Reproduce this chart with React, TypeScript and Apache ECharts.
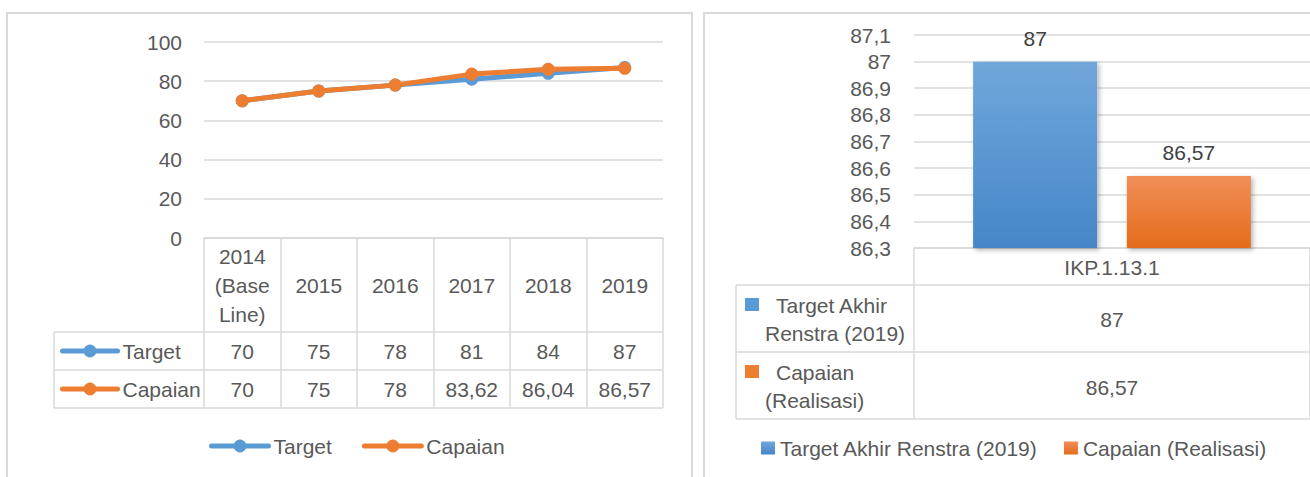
import React, { useEffect, useRef } from "react";
import * as echarts from "echarts";

// ---- Left chart data ----
const years = ["2014\n(Base\nLine)", "2015", "2016", "2017", "2018", "2019"];
const targetValues = [70, 75, 78, 81, 84, 87];
const capaianValues = [70, 75, 78, 83.62, 86.04, 86.57];
const lineSeriesNames = ["Target", "Capaian"];

// ---- Right chart data ----
const barCategories = ["IKP.1.13.1"];
const barTarget = [87];
const barCapaian = [86.57];
const barSeriesNames = ["Target Akhir Renstra (2019)", "Capaian (Realisasi)"];
const barRowLabels = [
  ["Target Akhir", "Renstra (2019)"],
  ["Capaian", "(Realisasi)"],
];

const BLUE = "#5b9bd5";
const ORANGE = "#ed7d31";
const GRID_C = "#d9d9d9";
const TEXT_C = "#595959";
const FONT = "Liberation Sans";
const FS = 21;

const fmt = (v: number) => String(Math.round(v * 100) / 100).replace(".", ",");

export default function App() {
  const ref = useRef<HTMLDivElement>(null);

  useEffect(() => {
    if (!ref.current) return;
    const chart = echarts.init(ref.current, undefined, { renderer: "svg" });

    const lbl = { fontSize: FS, color: TEXT_C, fontFamily: FONT };
    const lineSeg = (x1: number, y1: number, x2: number, y2: number) => ({
      type: "line",
      shape: { x1, y1, x2, y2 },
      style: { stroke: GRID_C, lineWidth: 1.5 },
      silent: true,
    });

    const blueGrad = new echarts.graphic.LinearGradient(0, 0, 0, 1, [
      { offset: 0, color: "#71a7db" },
      { offset: 1, color: "#4586c8" },
    ]);
    const orangeGrad = new echarts.graphic.LinearGradient(0, 0, 0, 1, [
      { offset: 0, color: "#f18e58" },
      { offset: 1, color: "#e46c1a" },
    ]);

    const rowIcons = [BLUE, ORANGE];
    const rowTop = [298, 365];
    const rightRowGraphics: any[] = [];
    barRowLabels.forEach((lines, r) => {
      rightRowGraphics.push({
        type: "rect",
        shape: { x: 745, y: rowTop[r], width: 14, height: 13 },
        style: { fill: rowIcons[r] },
      });
      lines.forEach((t, k) => {
        rightRowGraphics.push({
          type: "text",
          x: k === 0 ? 776 : 765,
          y: rowTop[r] + 7 + k * 28,
          style: {
            text: t,
            fontSize: FS,
            fontFamily: FONT,
            fill: TEXT_C,
            verticalAlign: "middle",
            align: "left",
          },
        });
      });
    });

    const legendLine = { width: 5, cap: "round" };

    const option: any = {
      animation: false,
      textStyle: { fontFamily: FONT, color: TEXT_C },
      grid: [
        { left: 204, top: 42, width: 459, height: 196 },
        { left: 914, top: 35, width: 406, height: 213 },
      ],
      xAxis: [
        {
          type: "category",
          gridIndex: 0,
          data: years,
          boundaryGap: true,
          axisLine: { lineStyle: { color: GRID_C, width: 1.5 } },
          axisTick: { show: true, interval: 0, length: 170, lineStyle: { color: GRID_C, width: 1.5 } },
          axisLabel: { ...lbl, interval: 0, lineHeight: 29, margin: 47, verticalAlign: "middle" },
        },
        {
          type: "category",
          gridIndex: 0,
          data: years,
          position: "bottom",
          axisLine: { show: false },
          axisTick: { show: false },
          axisLabel: {
            ...lbl,
            interval: 0,
            margin: 113,
            verticalAlign: "middle",
            formatter: (_v: string, i: number) => fmt(targetValues[i]),
          },
        },
        {
          type: "category",
          gridIndex: 0,
          data: years,
          position: "bottom",
          axisLine: { show: false },
          axisTick: { show: false },
          axisLabel: {
            ...lbl,
            interval: 0,
            margin: 151,
            verticalAlign: "middle",
            formatter: (_v: string, i: number) => fmt(capaianValues[i]),
          },
        },
        {
          type: "category",
          gridIndex: 1,
          data: barCategories,
          boundaryGap: true,
          axisLine: { lineStyle: { color: GRID_C, width: 1.5 } },
          axisTick: { show: true, interval: 0, length: 171, lineStyle: { color: GRID_C, width: 1.5 } },
          axisLabel: { ...lbl, interval: 0, margin: 19, verticalAlign: "middle" },
        },
        {
          type: "category",
          gridIndex: 1,
          data: barCategories,
          position: "bottom",
          axisLine: { show: false },
          axisTick: { show: false },
          axisLabel: {
            ...lbl,
            interval: 0,
            margin: 71,
            verticalAlign: "middle",
            formatter: (_v: string, i: number) => fmt(barTarget[i]),
          },
        },
        {
          type: "category",
          gridIndex: 1,
          data: barCategories,
          position: "bottom",
          axisLine: { show: false },
          axisTick: { show: false },
          axisLabel: {
            ...lbl,
            interval: 0,
            margin: 139,
            verticalAlign: "middle",
            formatter: (_v: string, i: number) => fmt(barCapaian[i]),
          },
        },
      ],
      yAxis: [
        {
          type: "value",
          gridIndex: 0,
          min: 0,
          max: 100,
          interval: 20,
          axisLine: { show: false },
          axisTick: { show: false },
          splitLine: { lineStyle: { color: GRID_C, width: 1.5 } },
          axisLabel: { ...lbl, margin: 22 },
        },
        {
          type: "value",
          gridIndex: 1,
          min: 86.3,
          max: 87.1,
          interval: 0.1,
          startValue: 86.3,
          axisLine: { show: false },
          axisTick: { show: false },
          splitLine: { lineStyle: { color: GRID_C, width: 1.5 } },
          axisLabel: {
            ...lbl,
            margin: 23,
            formatter: (v: number) => fmt(Math.round(v * 10) / 10),
          },
        },
      ],
      legend: [
        {
          data: lineSeriesNames,
          left: 209,
          top: 435,
          padding: 0,
          itemWidth: 57,
          itemHeight: 16,
          itemGap: 30,
          lineStyle: legendLine,
          textStyle: { ...lbl, lineHeight: 22 },
          selectedMode: false,
        },
        {
          data: lineSeriesNames,
          orient: "vertical",
          left: 60,
          top: 340,
          padding: 0,
          itemWidth: 55,
          itemHeight: 16,
          itemGap: 16,
          lineStyle: legendLine,
          textStyle: { ...lbl, lineHeight: 22 },
          selectedMode: false,
        },
        {
          data: barSeriesNames,
          left: 761,
          top: 437,
          padding: 0,
          icon: "rect",
          itemWidth: 14,
          itemHeight: 13,
          itemGap: 26,
          textStyle: { ...lbl, lineHeight: 22 },
          selectedMode: false,
        },
      ],
      series: [
        {
          name: lineSeriesNames[0],
          type: "line",
          xAxisIndex: 0,
          yAxisIndex: 0,
          data: targetValues,
          symbol: "circle",
          symbolSize: 13,
          lineStyle: { color: BLUE, width: 5, cap: "round", join: "round" },
          itemStyle: { color: BLUE },
          z: 3,
        },
        {
          name: lineSeriesNames[1],
          type: "line",
          xAxisIndex: 0,
          yAxisIndex: 0,
          data: capaianValues,
          symbol: "circle",
          symbolSize: 13,
          lineStyle: { color: ORANGE, width: 5, cap: "round", join: "round" },
          itemStyle: { color: ORANGE },
          z: 4,
        },
        {
          name: barSeriesNames[0],
          type: "bar",
          xAxisIndex: 3,
          yAxisIndex: 1,
          data: barTarget,
          barWidth: 124,
          barGap: "24%",
          clip: true,
          itemStyle: {
            color: blueGrad,
            shadowBlur: 5,
            shadowColor: "rgba(0,0,0,0.3)",
            shadowOffsetX: 2,
            shadowOffsetY: 2,
          },
          label: {
            show: true,
            position: "top",
            distance: 13,
            fontSize: FS,
            fontFamily: FONT,
            color: "#404040",
            formatter: (p: any) => fmt(p.value),
          },
        },
        {
          name: barSeriesNames[1],
          type: "bar",
          xAxisIndex: 3,
          yAxisIndex: 1,
          data: barCapaian,
          barWidth: 124,
          barGap: "24%",
          clip: true,
          itemStyle: {
            color: orangeGrad,
            shadowBlur: 5,
            shadowColor: "rgba(0,0,0,0.3)",
            shadowOffsetX: 2,
            shadowOffsetY: 2,
          },
          label: {
            show: true,
            position: "top",
            distance: 13,
            fontSize: FS,
            fontFamily: FONT,
            color: "#404040",
            formatter: (p: any) => fmt(p.value),
          },
        },
      ],
      graphic: [
        {
          type: "rect",
          shape: { x: 7, y: 13, width: 685, height: 490 },
          style: { fill: "none", stroke: GRID_C, lineWidth: 2 },
          silent: true,
        },
        {
          type: "rect",
          shape: { x: 704, y: 13, width: 640, height: 490 },
          style: { fill: "none", stroke: GRID_C, lineWidth: 2 },
          silent: true,
        },
        // left table
        lineSeg(54, 332, 663, 332),
        lineSeg(54, 370, 663, 370),
        lineSeg(54, 408, 663, 408),
        lineSeg(54, 332, 54, 408),
        // right table
        lineSeg(736, 285, 1310, 285),
        lineSeg(736, 352, 1310, 352),
        lineSeg(736, 419, 1310, 419),
        lineSeg(736, 285, 736, 419),
        ...rightRowGraphics,
      ],
    };

    chart.setOption(option);
    return () => chart.dispose();
  }, []);

  return (
    <div
      ref={ref}
      style={{ position: "absolute", left: 0, top: 0, width: 1310, height: 477, background: "#fff" }}
    />
  );
}
